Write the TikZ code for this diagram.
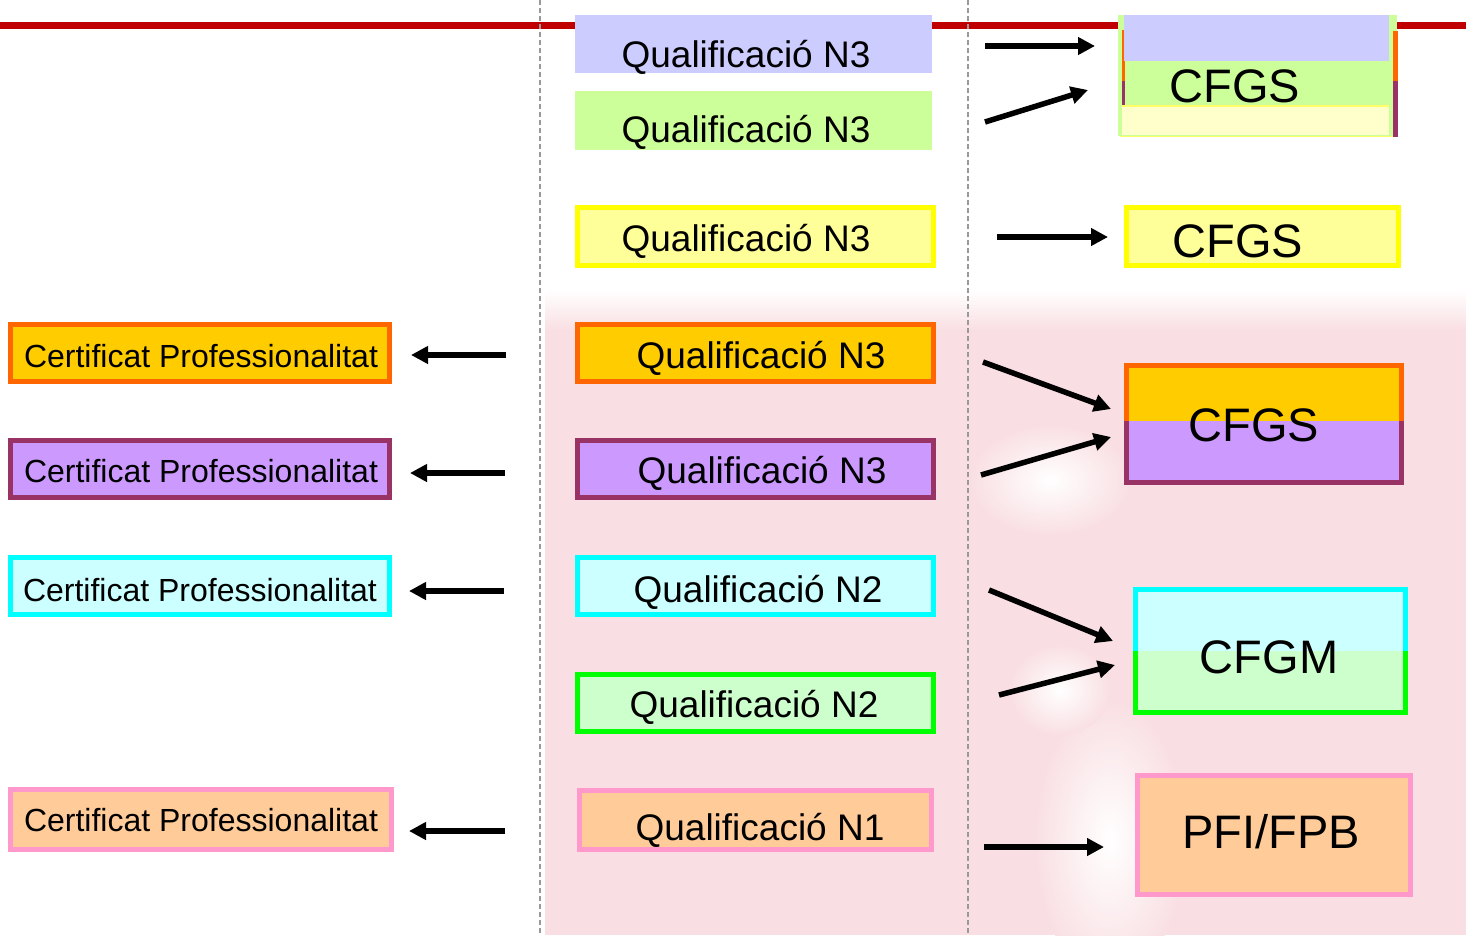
\documentclass[tikz,border=0pt]{standalone}
\usepackage{fontspec}
\setmainfont{Liberation Sans}
\usetikzlibrary{arrows.meta}
\definecolor{redline}{HTML}{C00000}
\definecolor{dashgray}{HTML}{999999}
\definecolor{wmpink}{HTML}{F9DFE3}
\definecolor{qblue}{HTML}{CCCCFF}
\definecolor{qgreen}{HTML}{CCFF99}
\definecolor{yborder}{HTML}{FFFF00}
\definecolor{yfill}{HTML}{FFFF99}
\definecolor{ylight}{HTML}{FFFFCC}
\definecolor{yline}{HTML}{FFFF66}
\definecolor{oborder}{HTML}{FF6600}
\definecolor{ofill}{HTML}{FFCC00}
\definecolor{pborder}{HTML}{993366}
\definecolor{pfill}{HTML}{CC99FF}
\definecolor{cborder}{HTML}{00FFFF}
\definecolor{cfill}{HTML}{CCFFFF}
\definecolor{gborder}{HTML}{00FF00}
\definecolor{gfill}{HTML}{CCFFCC}
\definecolor{kborder}{HTML}{FF99CC}
\definecolor{kfill}{HTML}{FFCC99}
\begin{document}
\begin{tikzpicture}[x=1pt,y=-1pt,
  arr/.style={line width=5.5pt, -{Triangle[length=17pt,width=17pt]}},
  box/.style={rectangle, line width=5pt, inner sep=0pt},
  qtext/.style={anchor=base, font=\fontsize{37pt}{44pt}\selectfont, inner sep=0pt},
  ctext/.style={anchor=base, font=\fontsize{32pt}{38pt}\selectfont, inner sep=0pt},
  btext/.style={anchor=base, font=\fontsize{47pt}{56pt}\selectfont, inner sep=0pt},
  divider/.style={draw=dashgray, line width=1.1pt, dash pattern=on 5pt off 3pt},
  glow/.style={inner color=white, outer color=wmpink},
]
\useasboundingbox (0,0) rectangle (1466,935);
\fill[white] (0,0) rectangle (1466,935);
% faint watermark
\shade[top color=white, bottom color=wmpink] (545,290) rectangle (1466,330);
\fill[wmpink] (545,330) rectangle (1466,935);
\shade[glow] (1050,480) ellipse [x radius=80pt, y radius=55pt];
\shade[glow] (1110,840) ellipse [x radius=75pt, y radius=140pt];
\shade[glow] (1060,690) ellipse [x radius=50pt, y radius=45pt];
% red rule and dividers
\fill[redline] (0,22) rectangle (1466,29);
\draw[divider] (540,0) -- (540,935);
\draw[divider] (968,0) -- (968,935);

% ---------- middle column ----------
\node[box, fill=qblue, minimum width=357pt, minimum height=58pt] (q1) at (753.5,44) {};
\node[qtext] (q1t) at (746,67) {Qualificació N3};
\node[box, fill=qgreen, minimum width=357pt, minimum height=59pt] (q2) at (753.5,120.5) {};
\node[qtext] (q2t) at (746,142) {Qualificació N3};
\node[box, draw=yborder, fill=yfill, minimum width=356pt, minimum height=58pt] (q3) at (755.5,236.5) {};
\node[qtext] (q3t) at (746,251) {Qualificació N3};
\node[box, draw=oborder, fill=ofill, minimum width=356pt, minimum height=57pt] (q4) at (755.5,353) {};
\node[qtext] (q4t) at (761,368) {Qualificació N3};
\node[box, draw=pborder, fill=pfill, minimum width=356pt, minimum height=57pt] (q5) at (755.5,469) {};
\node[qtext] (q5t) at (762,483) {Qualificació N3};
\node[box, draw=cborder, fill=cfill, minimum width=356pt, minimum height=57pt] (q6) at (755.5,586) {};
\node[qtext] (q6t) at (758,602) {Qualificació N2};
\node[box, draw=gborder, fill=gfill, minimum width=356pt, minimum height=57pt] (q7) at (755.5,703) {};
\node[qtext] (q7t) at (754,717) {Qualificació N2};
\node[box, draw=kborder, fill=kfill, minimum width=352pt, minimum height=59pt] (q8) at (755.5,820) {};
\node[qtext] (q8t) at (760,840) {Qualificació N1};

% ---------- left column ----------
\node[box, draw=oborder, fill=ofill, minimum width=379pt, minimum height=57pt] (c1) at (200,353) {};
\node[ctext] (c1t) at (201,367.5) {Certificat Professionalitat};
\node[box, draw=pborder, fill=pfill, minimum width=379pt, minimum height=57pt] (c2) at (200,469) {};
\node[ctext] (c2t) at (201,482.5) {Certificat Professionalitat};
\node[box, draw=cborder, fill=cfill, minimum width=379pt, minimum height=57pt] (c3) at (200,586) {};
\node[ctext] (c3t) at (200,601.5) {Certificat Professionalitat};
\node[box, draw=kborder, fill=kfill, minimum width=381pt, minimum height=60pt] (c4) at (201,819.5) {};
\node[ctext] (c4t) at (201,831.5) {Certificat Professionalitat};

% ---------- right column ----------
% stacked CFGS (top)
\fill[qgreen] (1118,15) rectangle (1397,136);
\fill[oborder] (1122,30) rectangle (1125,81);
\fill[pborder] (1122,81) rectangle (1125,105);
\fill[qgreen] (1389,15) rectangle (1393,31);
\fill[oborder] (1393,31) rectangle (1398,81);
\fill[pborder] (1393,81) rectangle (1398,137);
\fill[qblue] (1124,15) rectangle (1389,61);
\fill[ylight] (1122,106) rectangle (1389,135);
\draw[yline, line width=1.5pt] (1122,106) -- (1389,106);
\draw[yline, line width=1.5pt] (1120,136.5) -- (1393,136.5);
\node[btext] (r1t) at (1235,102) {CFGS};

\node[box, draw=yborder, fill=yfill, minimum width=272pt, minimum height=58pt] (r2) at (1262.5,236.5) {};
\node[btext] (r2t) at (1238,257) {CFGS};

% orange / purple CFGS
\fill[ofill] (1126.5,365.5) rectangle (1401.5,421);
\fill[pfill] (1126.5,421) rectangle (1401.5,482.5);
\draw[oborder, line width=5pt] (1126.5,421) -- (1126.5,365.5) -- (1401.5,365.5) -- (1401.5,421);
\draw[pborder, line width=5pt] (1126.5,421) -- (1126.5,482.5) -- (1401.5,482.5) -- (1401.5,421);
\node[btext] (r3t) at (1254,441) {CFGS};

% CFGM
\fill[cfill] (1135.5,589.5) rectangle (1405.5,651);
\fill[gfill] (1135.5,651) rectangle (1405.5,712.5);
\draw[cborder, line width=5pt] (1135.5,651) -- (1135.5,589.5) -- (1405.5,589.5) -- (1405.5,651);
\draw[gborder, line width=5pt] (1135.5,651) -- (1135.5,712.5) -- (1405.5,712.5) -- (1405.5,651);
\node[btext] (r4t) at (1269,673) {CFGM};

% PFI/FPB
\node[box, draw=kborder, fill=kfill, minimum width=273pt, minimum height=119pt] (r5) at (1274,835) {};
\node[btext] (r5t) at (1271,848) {PFI/FPB};

% ---------- arrows ----------
\coordinate (a1s) at (985,46);   \coordinate (a1e) at (1095,46);
\coordinate (a2s) at (985,122);  \coordinate (a2e) at (1088,90);
\coordinate (a3s) at (997,237);  \coordinate (a3e) at (1108,237);
\coordinate (a4s) at (983,362);  \coordinate (a4e) at (1111,409);
\coordinate (a5s) at (981,475);  \coordinate (a5e) at (1111,437);
\coordinate (a6s) at (989,590);  \coordinate (a6e) at (1113,641);
\coordinate (a7s) at (999,695);  \coordinate (a7e) at (1115,665);
\coordinate (a8s) at (984,847);  \coordinate (a8e) at (1104,847);
\coordinate (l1s) at (506,355);  \coordinate (l1e) at (411,355);
\coordinate (l2s) at (505,473);  \coordinate (l2e) at (410,473);
\coordinate (l3s) at (504,591);  \coordinate (l3e) at (409,591);
\coordinate (l4s) at (505,831);  \coordinate (l4e) at (409,831);
\foreach \s/\e in {a1s/a1e,a2s/a2e,a3s/a3e,a4s/a4e,a5s/a5e,a6s/a6e,a7s/a7e,a8s/a8e,l1s/l1e,l2s/l2e,l3s/l3e,l4s/l4e}
  \draw[arr] (\s) -- (\e);
\end{tikzpicture}
\end{document}
